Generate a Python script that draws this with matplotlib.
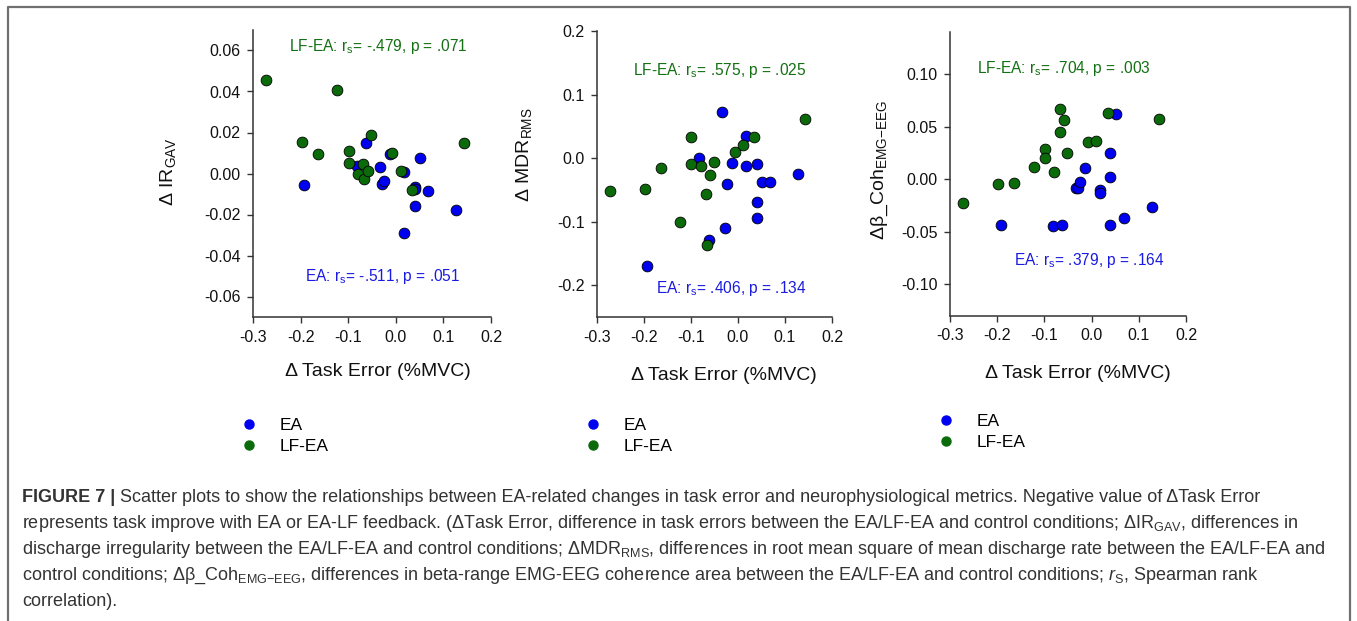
import matplotlib
matplotlib.use("Agg")
import matplotlib.pyplot as plt
from matplotlib.lines import Line2D

plt.rcParams['font.family'] = ['Liberation Sans', 'DejaVu Sans']
plt.rcParams['mathtext.fontset'] = 'custom'
plt.rcParams['mathtext.rm'] = 'Liberation Sans'
plt.rcParams['mathtext.it'] = 'Liberation Sans:italic'
plt.rcParams['mathtext.bf'] = 'Liberation Sans:bold'

# ---------------- data ----------------
ea_x = [-0.193, -0.082, -0.062, -0.034, -0.028, -0.024, -0.013, 0.018, 0.018,
        0.040, 0.040, 0.040, 0.051, 0.068, 0.127]
lf_x = [-0.273, -0.198, -0.164, -0.123, -0.099, -0.099, -0.079, -0.068, -0.066,
        -0.059, -0.052, -0.007, 0.010, 0.035, 0.143]

ea_ir = [-0.0058, 0.0037, 0.0151, 0.0034, -0.0051, -0.0038, 0.0097, 0.0009, -0.0290,
         -0.0066, -0.0159, -0.0075, 0.0074, -0.0086, -0.0180]
lf_ir = [0.0458, 0.0156, 0.0096, 0.0409, 0.0112, 0.0050, 0.0000, 0.0047, -0.0025,
         0.0014, 0.0190, 0.0099, 0.0012, -0.0079, 0.0151]

ea_mdr = [-0.170, 0.000, -0.129, 0.073, -0.110, -0.040, -0.007, 0.035, -0.012,
          -0.009, -0.069, -0.094, -0.038, -0.037, -0.025]
lf_mdr = [-0.051, -0.048, -0.016, -0.101, 0.034, -0.009, -0.012, -0.056, -0.136,
          -0.026, -0.006, 0.010, 0.020, 0.033, 0.061]

ea_coh = [-0.0435, -0.0442, -0.0432, -0.0085, -0.0085, -0.0025, 0.0107, -0.0101, -0.0126,
          0.0252, 0.0022, -0.0432, 0.0625, -0.0366, -0.0268]
lf_coh = [-0.0227, -0.0041, -0.0032, 0.0120, 0.0290, 0.0205, 0.0073, 0.0672, 0.0445,
          0.0565, 0.0246, 0.0356, 0.0366, 0.0634, 0.0577]

x_ticks = [-0.3, -0.2, -0.1, 0.0, 0.1, 0.2]
x_ticklabels = ["-0.3", "-0.2", "-0.1", "0.0", "0.1", "0.2"]
ir_ticks = [-0.06, -0.04, -0.02, 0.0, 0.02, 0.04, 0.06]
ir_ticklabels = ["-0.06", "-0.04", "-0.02", "0.00", "0.02", "0.04", "0.06"]
mdr_ticks = [-0.2, -0.1, 0.0, 0.1, 0.2]
mdr_ticklabels = ["-0.2", "-0.1", "0.0", "0.1", "0.2"]
coh_ticks = [-0.10, -0.05, 0.0, 0.05, 0.10]
coh_ticklabels = ["-0.10", "-0.05", "0.00", "0.05", "0.10"]

ylabels = [r"Δ IR$_{\mathrm{GAV}}$", r"Δ MDR$_{\mathrm{RMS}}$", r"Δβ_Coh$_{\mathrm{EMG{-}EEG}}$"]
lf_stats = [r"LF-EA: r$_{\mathrm{s}}$= -.479, p = .071",
            r"LF-EA: r$_{\mathrm{s}}$= .575, p = .025",
            r"LF-EA: r$_{\mathrm{s}}$= .704, p = .003"]
ea_stats = [r"EA: r$_{\mathrm{s}}$= -.511, p = .051",
            r"EA: r$_{\mathrm{s}}$= .406, p = .134",
            r"EA: r$_{\mathrm{s}}$= .379, p = .164"]
series_labels = ["EA", "LF-EA"]
xlabel = "Δ Task Error (%MVC)"

caption_bold = "FIGURE 7 |"
caption_lines = [
    " Scatter plots to show the relationships between EA-related changes in task error and neurophysiological metrics. Negative value of ΔTask Error",
    r"represents task improve with EA or EA-LF feedback. (ΔTask Error, difference in task errors between the EA/LF-EA and control conditions; ΔIR$_{\mathrm{GAV}}$, differences in",
    r"discharge irregularity between the EA/LF-EA and control conditions; ΔMDR$_{\mathrm{RMS}}$, differences in root mean square of mean discharge rate between the EA/LF-EA and",
    r"control conditions; Δβ_Coh$_{\mathrm{EMG{-}EEG}}$, differences in beta-range EMG-EEG coherence area between the EA/LF-EA and control conditions; $r_{\mathrm{S}}$, Spearman rank",
    "correlation).",
]

# ---------------- styles ----------------
W, H = 1357, 621
BLUE = "#0000f0"
GREEN = "#0b6b0b"
BLUE_T = "#1a1ae0"
GREEN_T = "#137013"

def fx(px):
    return px / W

def fy(py):
    return 1 - py / H

fig = plt.figure(figsize=(W / 100, H / 100), dpi=100)

panels = [
    dict(rect=(253, 30, 491, 317), ylim=(-0.07, 0.07), yt=ir_ticks, ytl=ir_ticklabels,
         ea=ea_ir, lf=lf_ir, ylab=(168, 172), xlab=(378, 372), lft=(378, 46), eat=(383, 276),
         leg=(240, 418)),
    dict(rect=(597, 31, 832, 317), ylim=(-0.25, 0.2), yt=mdr_ticks, ytl=mdr_ticklabels,
         ea=ea_mdr, lf=lf_mdr, ylab=(524, 155), xlab=(724, 376), lft=(720, 70), eat=(731, 288),
         leg=(584, 418)),
    dict(rect=(950, 32, 1186, 316), ylim=(-0.13, 0.14), yt=coh_ticks, ytl=coh_ticklabels,
         ea=ea_coh, lf=lf_coh, ylab=(880, 170), xlab=(1078, 373), lft=(1064, 68), eat=(1089, 261),
         leg=(937, 414)),
]

for i, p in enumerate(panels):
    l, t, r, b = p["rect"]
    ax = fig.add_axes([fx(l), fy(b), (r - l) / W, (b - t) / H])
    ax.scatter(ea_x, p["ea"], s=60, c=BLUE, edgecolors="black", linewidths=0.6, zorder=3)
    ax.scatter(lf_x, p["lf"], s=60, c=GREEN, edgecolors="black", linewidths=0.6, zorder=4)
    ax.set_xlim(-0.3, 0.2)
    ax.set_ylim(*p["ylim"])
    ax.set_xticks(x_ticks)
    ax.set_xticklabels(x_ticklabels)
    ax.set_yticks(p["yt"])
    ax.set_yticklabels(p["ytl"])
    for s in ("top", "right"):
        ax.spines[s].set_visible(False)
    for s in ("left", "bottom"):
        ax.spines[s].set_linewidth(1.1)
        ax.spines[s].set_color("#333333")
    ax.tick_params(direction="out", length=4, width=1.0, color="#333333",
                   labelsize=11.5, labelcolor="#111111", pad=5)
    ax.patch.set_alpha(0)

    fig.text(fx(p["ylab"][0]), fy(p["ylab"][1]), ylabels[i], rotation=90,
             ha="center", va="center", fontsize=14, color="#111111")
    fig.text(fx(p["xlab"][0]), fy(p["xlab"][1]), xlabel, ha="center", va="center",
             fontsize=14, color="#111111")
    fig.text(fx(p["lft"][0]), fy(p["lft"][1]), lf_stats[i], ha="center", va="center",
             fontsize=11.2, color=GREEN_T)
    fig.text(fx(p["eat"][0]), fy(p["eat"][1]), ea_stats[i], ha="center", va="center",
             fontsize=11.2, color=BLUE_T)

    handles = [Line2D([], [], marker="o", linestyle="none", markersize=6.5,
                      markerfacecolor=BLUE, markeredgecolor=BLUE),
               Line2D([], [], marker="o", linestyle="none", markersize=6.5,
                      markerfacecolor=GREEN, markeredgecolor=GREEN)]
    ax.legend(handles, series_labels, loc="upper left",
              bbox_to_anchor=(fx(p["leg"][0]), fy(p["leg"][1])),
              bbox_transform=fig.transFigure, frameon=False, fontsize=12.5,
              handlelength=1.0, handletextpad=1.3, labelspacing=0.35,
              borderaxespad=0, borderpad=0)

# border
fig.add_artist(Line2D([fx(7.5), fx(7.5), fx(1349.5), fx(1349.5)],
                      [fy(625), fy(7), fy(7), fy(625)],
                      transform=fig.transFigure, color="#707070", linewidth=1.6))

# caption
cap_fs = 13.0
cap_col = "#333333"
line_y = [498, 524, 550, 576, 602]
bt = fig.text(fx(22), fy(line_y[0]), caption_bold, fontsize=cap_fs, weight="bold",
              color=cap_col, ha="left", va="center")
fig.canvas.draw()
bb = bt.get_window_extent(fig.canvas.get_renderer())
fig.text(bb.x1 / W, fy(line_y[0]), caption_lines[0], fontsize=cap_fs, color=cap_col,
         ha="left", va="center")
for k in range(1, 5):
    fig.text(fx(22), fy(line_y[k]), caption_lines[k], fontsize=cap_fs, color=cap_col,
             ha="left", va="center")

fig.savefig("out.png", dpi=100)
